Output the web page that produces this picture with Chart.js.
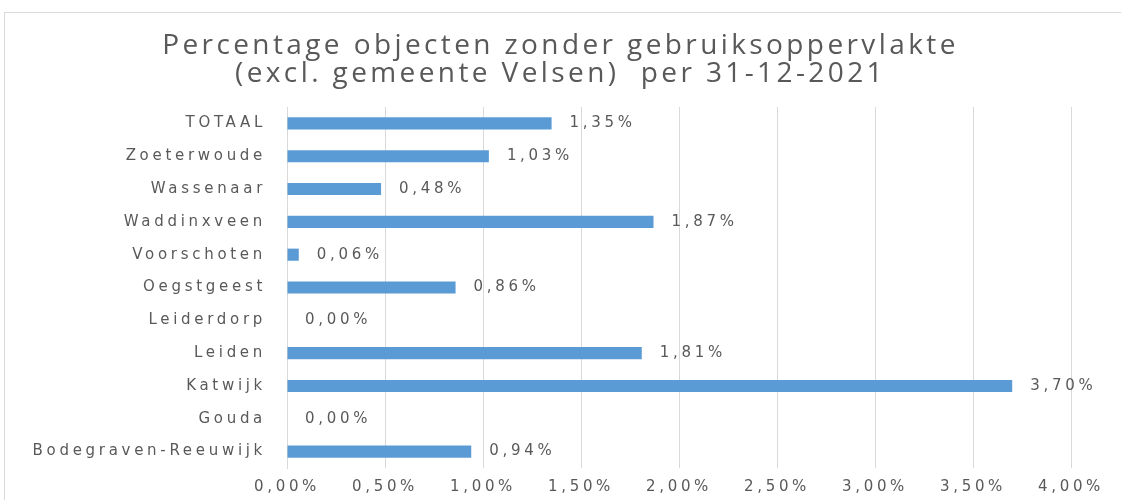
<!DOCTYPE html>
<html>
<head>
<meta charset="utf-8">
<script src="https://cdn.jsdelivr.net/npm/chart.js@4"></script>
<style>
    html, body { margin: 0; padding: 0; background: #fff; overflow: hidden; }
    #wrap { position: relative; width: 1121px; height: 500px; }
    #frame { position: absolute; left: 4px; top: 12px; width: 1200px; height: 600px; border: 1px solid #d9d9d9; }
    #chart { position: absolute; left: 0; top: 0; }
</style>
</head>
<body>
<div id="wrap">
    <div id="frame"></div>
    <canvas id="chart" width="1121" height="500"></canvas>
</div>
<script>
const titleLines = ['Percentage objecten zonder gebruiksoppervlakte', '(excl. gemeente Velsen)  per 31-12-2021'];
const gemeenten = ['TOTAAL', 'Zoeterwoude', 'Wassenaar', 'Waddinxveen', 'Voorschoten', 'Oegstgeest',
    'Leiderdorp', 'Leiden', 'Katwijk', 'Gouda', 'Bodegraven-Reeuwijk'];
const percentages = [1.35, 1.03, 0.48, 1.87, 0.06, 0.86, 0.00, 1.81, 3.70, 0.00, 0.94];
const xTicks = [0, 0.5, 1, 1.5, 2, 2.5, 3, 3.5, 4];

const grey = '#595959';
const labelFont = '15px "DejaVu Sans"';

function fmt(v) {
    return v.toFixed(2).replace('.', ',') + '%';
}

// title is drawn before the bars, axis labels after (ticks z = 1),
// so each can get its own letter spacing
const spacing = {
    id: 'spacing',
    beforeLayout(chart) { chart.ctx.letterSpacing = '3.7px'; },
    afterLayout(chart) {
        // center the title on the whole canvas, not on the padded area
        const t = chart.titleBlock;
        t.left = 0;
        t.right = chart.width;
        t.width = chart.width;
    },
    beforeDraw(chart) { chart.ctx.letterSpacing = '3.4px'; }
};

// value labels right of each bar
const valueLabels = {
    id: 'valueLabels',
    afterDatasetsDraw(chart) {
        const ctx = chart.ctx;
        const meta = chart.getDatasetMeta(0);
        ctx.letterSpacing = '3.7px';
        ctx.save();
        ctx.font = labelFont;
        ctx.fillStyle = grey;
        ctx.textAlign = 'left';
        ctx.textBaseline = 'middle';
        meta.data.forEach((bar, i) => {
            ctx.fillText(fmt(percentages[i]), bar.x + 18, bar.y);
        });
        ctx.restore();
    }
};

const ctx = document.getElementById('chart').getContext('2d');
new Chart(ctx, {
    type: 'bar',
    data: {
        labels: gemeenten,
        datasets: [{
            data: percentages,
            backgroundColor: '#5b9bd5',
            barPercentage: 0.37,
            categoryPercentage: 1
        }]
    },
    options: {
        indexAxis: 'y',
        responsive: false,
        animation: false,
        layout: { padding: { top: 0, left: 0, right: 50, bottom: 0 } },
        plugins: {
            legend: { display: false },
            tooltip: { enabled: false },
            title: {
                display: true,
                text: titleLines,
                color: grey,
                font: { family: 'Open Sans', size: 28, weight: 'normal', lineHeight: 1.0 },
                padding: { top: 32, bottom: 19 }
            }
        },
        scales: {
            x: {
                min: 0,
                max: 4,
                afterBuildTicks(scale) {
                    scale.ticks = xTicks.map(v => ({ value: v }));
                },
                afterFit(scale) { scale.height = 32; },
                grid: { color: '#d9d9d9', drawTicks: false },
                border: { display: false },
                ticks: {
                    z: 1,
                    color: grey,
                    padding: 10,
                    font: { family: 'DejaVu Sans', size: 15 },
                    callback: v => fmt(v)
                }
            },
            y: {
                afterFit(scale) { scale.width = 287; },
                grid: { display: false },
                border: { display: true, color: '#d9d9d9' },
                ticks: {
                    z: 1,
                    color: grey,
                    padding: 13,
                    font: { family: 'DejaVu Sans', size: 15 }
                }
            }
        }
    },
    plugins: [spacing, valueLabels]
});
</script>
</body>
</html>
